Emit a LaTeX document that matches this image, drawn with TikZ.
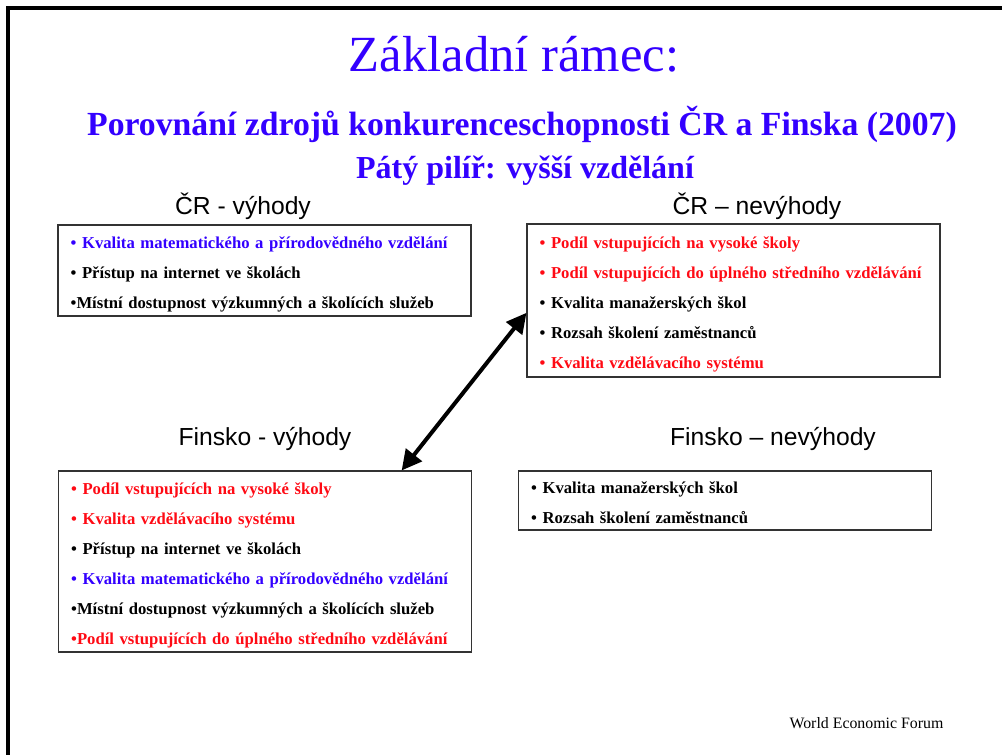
\documentclass[tikz,border=0pt]{standalone}
\usepackage{fontspec}
\setmainfont{Liberation Serif}
\newfontfamily\arialfont{Liberation Sans}
\usetikzlibrary{arrows.meta,calc}
\definecolor{titleblue}{RGB}{51,0,255}
\definecolor{itemred}{RGB}{255,10,20}
\newcommand{\firstline}[1][15pt]{\rule{0pt}{#1}\ignorespaces}
\tikzset{
  listbox/.style={draw=black!80, line width=0.8pt, rectangle, inner xsep=9.5pt, inner ysep=0pt,
    text width=290.75pt, align=left, font=\bfseries\fontsize{12.5}{22.5}\selectfont},
  heading/.style={anchor=base, font=\arialfont\fontsize{18.5}{20}\selectfont},
  twoway/.style={{Triangle[length=15pt,width=15pt]}-{Triangle[length=15pt,width=15pt]}, line width=3pt}
}
\begin{document}
\begin{tikzpicture}[x=0.75pt, y=-0.75pt]
  \useasboundingbox (0,0) rectangle (1002,755);
  \draw[line width=2.6pt] (8,755) -- (8,8) -- (1002,8);

  \node[anchor=base, titleblue, font=\fontsize{38}{40}\selectfont] (title) at (514,72) {Základní rámec:};
  \node[anchor=base, titleblue, font=\bfseries\fontsize{25.3}{27}\selectfont] (sub1) at (522,136)
    {Porovnání zdrojů konkurenceschopnosti ČR a Finska (2007)};
  \node[anchor=base, titleblue, font=\bfseries\fontsize{24}{26}\selectfont] (sub2) at (525,179)
    {Pátý pilíř: vyšší vzdělání};

  \node[heading] (crVhead) at (243,215) {ČR - výhody};
  \node[heading] (crNhead) at (757,215) {ČR – nevýhody};
  \node[heading] (fiVhead) at (265,445) {Finsko - výhody};
  \node[heading] (fiNhead) at (773,445) {Finsko – nevýhody};

  \node[listbox, minimum height=68.25pt] (crV) at (264.5,270.5) {\firstline
    \textcolor{titleblue}{• Kvalita matematického a přírodovědného vzdělání}\\
    • Přístup na internet ve školách\\
    •Místní dostupnost výzkumných a školících služeb};
  \node[listbox, minimum height=114.75pt] (crN) at (733.5,300.5) {\firstline
    \textcolor{itemred}{• Podíl vstupujících na vysoké školy}\\
    \textcolor{itemred}{• Podíl vstupujících do úplného středního vzdělávání}\\
    • Kvalita manažerských škol\\
    • Rozsah školení zaměstnanců\\
    \textcolor{itemred}{• Kvalita vzdělávacího systému}};
  \node[listbox, minimum height=135.75pt] (fiV) at (265,561.5) {\firstline
    \textcolor{itemred}{• Podíl vstupujících na vysoké školy}\\
    \textcolor{itemred}{• Kvalita vzdělávacího systému}\\
    • Přístup na internet ve školách\\
    \textcolor{titleblue}{• Kvalita matematického a přírodovědného vzdělání}\\
    •Místní dostupnost výzkumných a školících služeb\\
    \textcolor{itemred}{•Podíl vstupujících do úplného středního vzdělávání}};
  \node[listbox, minimum height=44.25pt] (fiN) at (725,500.5) {\firstline[12pt]
    • Kvalita manažerských škol\\
    • Rozsah školení zaměstnanců};

  \draw[twoway] ($(fiV.north west)!0.83!(fiV.north east)$) -- ($(crN.north west)!0.58!(crN.south west)$);

  \node[anchor=base, font=\fontsize{11.9}{13}\selectfont] (wef) at (866.5,728) {World Economic Forum};
\end{tikzpicture}
\end{document}
